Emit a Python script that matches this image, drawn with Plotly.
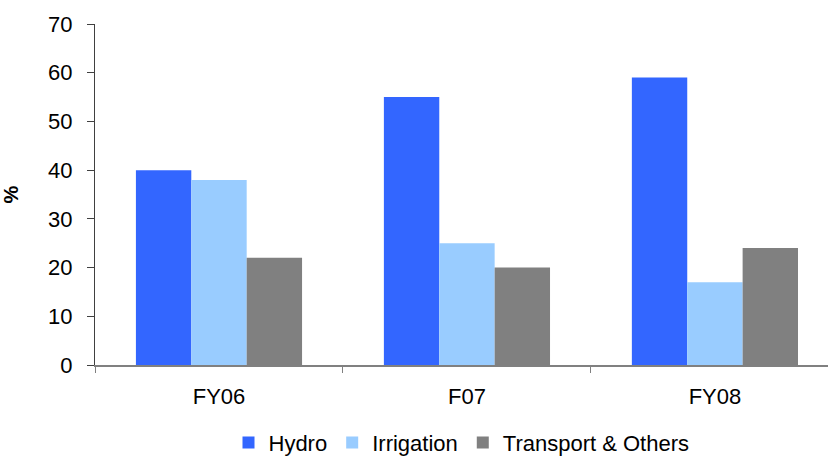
import plotly.graph_objects as go

categories = ["FY06", "F07", "FY08"]
hydro = [40, 55, 59]
irrigation = [38, 25, 17]
transport = [22, 20, 24]
y_ticks = [0, 10, 20, 30, 40, 50, 60, 70]

fig = go.Figure()
fig.add_trace(go.Bar(name="Hydro", x=categories, y=hydro, marker=dict(color="#3366FF", line=dict(width=0))))
fig.add_trace(go.Bar(name="Irrigation", x=categories, y=irrigation, marker=dict(color="#99CCFF", line=dict(width=0))))
fig.add_trace(go.Bar(name="Transport & Others", x=categories, y=transport, marker=dict(color="#808080", line=dict(width=0))))

font = "Liberation Sans, Arial, sans-serif"
fig.update_layout(
    width=828, height=457,
    margin=dict(l=95, r=0, t=24, b=92, autoexpand=False),
    paper_bgcolor="white", plot_bgcolor="white",
    barmode="group", bargap=0.33, bargroupgap=0,
    font=dict(family=font, size=22, color="black"),
    showlegend=True,
    legend=dict(orientation="h", x=0.5, xanchor="center", y=-0.228, yanchor="middle",
                font=dict(size=22), itemwidth=30, tracegroupgap=0),
    xaxis=dict(range=[-0.5, 2.456], showline=True, linecolor="#808080", linewidth=1.5,
               ticks="outside", tickson="boundaries", ticklen=6, tickcolor="#808080",
               showgrid=False, zeroline=False, ticklabelstandoff=11, automargin=False),
    yaxis=dict(range=[0, 70], tickvals=y_ticks, showline=True, linecolor="#404040", linewidth=1,
               ticks="outside", ticklen=7, tickcolor="#404040", showgrid=False, zeroline=False,
               ticklabelstandoff=10, automargin=False,
               title=dict(text="<b>%</b>", font=dict(size=20), standoff=30)),
)
fig.write_html("out.html", config={"displayModeBar": False},
               post_script="document.body.style.margin='0';document.body.style.overflow='hidden';")
